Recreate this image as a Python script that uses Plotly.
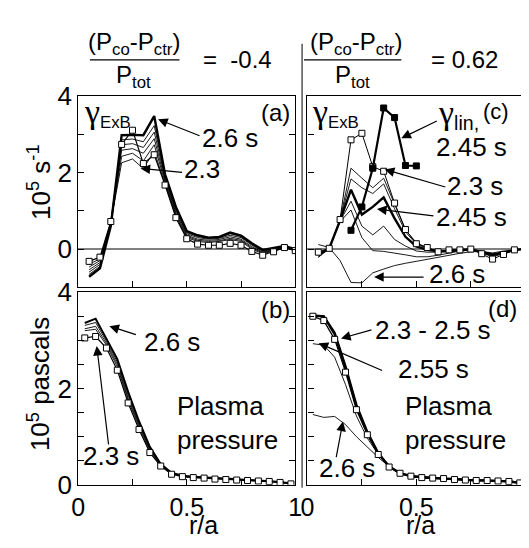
import plotly.graph_objects as go

# ---------------- data ----------------
r_ac = [0.05, 0.10, 0.15, 0.20, 0.25, 0.30, 0.35, 0.40, 0.45, 0.50,
        0.55, 0.60, 0.65, 0.70, 0.75, 0.80, 0.85, 0.90, 0.95, 1.00]

# panel (a): gamma_ExB, 10^5 s^-1, (Pco-Pctr)/Ptot = -0.4
a_230 = [-0.32, -0.21, 0.72, 2.73, 3.10, 2.23, 2.46, 1.67, 0.82, 0.27, 0.13, 0.10, 0.10, 0.15, 0.10, -0.06, -0.16, -0.07, 0.04, -0.04]
a_235 = [-0.40, -0.25, 0.70, 2.25, 2.35, 2.10, 2.55, 1.70, 0.85, 0.30, 0.20, 0.17, 0.20, 0.25, 0.20, 0.00, -0.12, -0.05, 0.03, 0.00]
a_240 = [-0.47, -0.30, 0.68, 2.42, 2.50, 2.30, 2.72, 1.75, 0.90, 0.33, 0.23, 0.20, 0.22, 0.28, 0.23, 0.03, -0.10, -0.03, 0.04, 0.00]
a_245 = [-0.54, -0.35, 0.66, 2.58, 2.62, 2.50, 2.88, 1.80, 0.95, 0.36, 0.26, 0.23, 0.25, 0.32, 0.26, 0.06, -0.08, -0.02, 0.05, 0.00]
a_250 = [-0.60, -0.40, 0.64, 2.72, 2.75, 2.65, 3.05, 1.85, 1.00, 0.40, 0.30, 0.26, 0.28, 0.36, 0.30, 0.10, -0.06, 0.00, 0.06, 0.00]
a_255 = [-0.66, -0.45, 0.62, 2.85, 2.87, 2.80, 3.22, 1.90, 1.05, 0.43, 0.33, 0.28, 0.30, 0.40, 0.33, 0.12, -0.04, 0.02, 0.07, 0.00]
a_260 = [-0.72, -0.50, 0.60, 2.97, 2.98, 2.97, 3.47, 1.95, 1.10, 0.47, 0.36, 0.30, 0.32, 0.43, 0.35, 0.15, -0.02, 0.03, 0.08, 0.00]

# panel (b): plasma pressure, 10^5 Pa
r_b = [0.03, 0.08, 0.13, 0.18, 0.23, 0.28, 0.33, 0.38, 0.43, 0.48,
       0.53, 0.58, 0.63, 0.68, 0.73, 0.78, 0.83, 0.88, 0.93, 0.98]
b_230 = [3.05, 3.08, 2.84, 2.38, 1.70, 1.15, 0.67, 0.39, 0.22, 0.17, 0.15, 0.14, 0.12, 0.11, 0.10, 0.09, 0.08, 0.07, 0.05, 0.02]
b_240 = [3.20, 3.23, 2.90, 2.45, 1.76, 1.20, 0.70, 0.40, 0.23, 0.18, 0.16, 0.15, 0.13, 0.12, 0.11, 0.10, 0.09, 0.07, 0.05, 0.03]
b_245 = [3.24, 3.29, 2.94, 2.50, 1.80, 1.24, 0.73, 0.41, 0.24, 0.18, 0.16, 0.15, 0.13, 0.12, 0.11, 0.10, 0.09, 0.08, 0.06, 0.03]
b_250 = [3.31, 3.37, 2.98, 2.55, 1.86, 1.28, 0.76, 0.42, 0.24, 0.19, 0.17, 0.15, 0.14, 0.12, 0.11, 0.10, 0.09, 0.08, 0.06, 0.03]
b_260 = [3.36, 3.45, 3.03, 2.61, 1.93, 1.32, 0.79, 0.43, 0.25, 0.19, 0.17, 0.15, 0.14, 0.13, 0.11, 0.10, 0.09, 0.08, 0.06, 0.03]

# panel (c): gamma_ExB, (Pco-Pctr)/Ptot = 0.62
c_230 = [-0.08, 0.02, 0.77, 2.85, 3.02, 2.15, 2.03, 1.20, 0.51, 0.14, 0.04, -0.07, -0.02, -0.02, 0.00, -0.12, -0.26, -0.14, -0.02, 0.02]
c_235 = [-0.10, 0.02, 0.77, 2.11, 1.85, 1.60, 1.85, 1.15, 0.50, 0.17, 0.03, -0.05, -0.04, -0.03, 0.00, -0.10, -0.20, -0.12, -0.03, 0.00]
c_240 = [-0.13, 0.02, 0.76, 1.83, 1.60, 1.45, 1.70, 1.05, 0.45, 0.13, 0.01, -0.05, -0.05, -0.03, 0.00, -0.09, -0.18, -0.10, -0.03, 0.00]
c_245 = [-0.16, 0.02, 0.75, 1.55, 0.90, 1.10, 1.35, 0.80, 0.32, 0.07, -0.02, -0.06, -0.05, -0.03, 0.00, -0.08, -0.15, -0.10, -0.02, 0.00]
c_250 = [-0.20, 0.02, 0.73, 1.25, 0.60, 0.37, 0.60, 0.25, 0.08, -0.05, -0.08, -0.08, -0.06, -0.04, -0.02, -0.07, -0.13, -0.08, -0.02, 0.00]
c_255 = [-0.22, 0.03, 0.72, 1.02, 0.30, -0.04, -0.06, -0.10, -0.15, -0.20, -0.20, -0.16, -0.10, -0.05, -0.03, -0.06, -0.12, -0.08, -0.02, 0.00]
c_260 = [0.12, 0.04, -0.30, -0.87, -0.88, -0.62, -0.52, -0.43, -0.37, -0.32, -0.26, -0.20, -0.15, -0.11, -0.07, -0.06, -0.10, -0.05, -0.02, 0.00]
r_lin = [0.20, 0.25, 0.30, 0.35, 0.40, 0.45, 0.50]
g_lin_245 = [0.49, 1.10, 2.11, 3.68, 3.43, 2.18, 2.17]

# panel (d): plasma pressure
r_d = [0.025, 0.075, 0.125, 0.175, 0.225, 0.275, 0.325, 0.375, 0.425, 0.475,
       0.525, 0.575, 0.625, 0.675, 0.725, 0.775, 0.825, 0.875, 0.925, 0.975]
d_230 = [3.50, 3.41, 3.02, 2.34, 1.56, 1.04, 0.63, 0.37, 0.24, 0.18, 0.15, 0.14, 0.13, 0.11, 0.10, 0.09, 0.09, 0.08, 0.07, 0.04]
d_240 = [3.52, 3.50, 3.12, 2.42, 1.62, 1.08, 0.65, 0.38, 0.24, 0.18, 0.16, 0.14, 0.13, 0.12, 0.10, 0.09, 0.09, 0.08, 0.07, 0.04]
d_250 = [3.50, 3.50, 3.16, 2.46, 1.66, 1.10, 0.66, 0.38, 0.24, 0.18, 0.16, 0.14, 0.13, 0.12, 0.10, 0.09, 0.09, 0.08, 0.07, 0.04]
d_255 = [2.93, 2.90, 2.65, 2.08, 1.43, 0.97, 0.63, 0.37, 0.24, 0.18, 0.15, 0.14, 0.13, 0.11, 0.10, 0.09, 0.09, 0.08, 0.07, 0.04]
d_260 = [1.46, 1.40, 1.42, 1.25, 1.00, 0.78, 0.57, 0.38, 0.25, 0.18, 0.15, 0.14, 0.13, 0.11, 0.10, 0.09, 0.09, 0.08, 0.07, 0.04]

x_ticks_text = ["0", "0.5", "1"]

# ---------------- figure ----------------
OFF = 8                      # default page body margin
W, H = 529 - OFF, 548 - OFF  # figure size so that page pixels match
FONT = "Liberation Sans, Arial, Helvetica, sans-serif"
GAMMA = "<span style='font-family:Liberation Serif, DejaVu Serif, serif;font-size:34px'>γ</span>"


def px(x):
    return (x - OFF) / W


def py(y):
    return 1 - (y - OFF) / H


fig = go.Figure()


def line(x, y, ax, width=1.0, squares=False, filled=False):
    mode = "lines+markers" if squares else "lines"
    marker = dict(symbol="square", size=6,
                  color="black" if filled else "white",
                  line=dict(color="black", width=1))
    fig.add_trace(go.Scatter(x=x, y=y, mode=mode, xaxis="x" + ax, yaxis="y" + ax,
                             line=dict(color="black", width=width),
                             marker=marker, showlegend=False, hoverinfo="skip",
                             cliponaxis=True))


# (a)
for s in [a_235, a_240, a_245, a_250, a_255]:
    line(r_ac, s, "", 0.9)
line(r_ac, a_260, "", 2.4)
line(r_ac, a_230, "", 1.2, squares=True)
# (b)
for s in [b_240, b_245, b_250]:
    line(r_b, s, "2", 0.9)
line(r_b, b_260, "2", 2.0)
line(r_b, b_230, "2", 1.2, squares=True)
# (c)
for s in [c_235, c_240, c_250, c_255, c_260]:
    line(r_ac, s, "3", 0.9)
line(r_ac, c_245, "3", 2.4)
line(r_ac, c_230, "3", 1.0, squares=True)
line(r_lin, g_lin_245, "3", 2.2, squares=True, filled=True)
# (d)
line(r_d, d_260, "4", 0.9)
line(r_d, d_255, "4", 0.9)
line(r_d, d_240, "4", 2.2)
line(r_d, d_250, "4", 2.2)
line(r_d, d_230, "4", 1.2, squares=True)

dom_xl = [px(73), px(296)]
dom_xr = [px(308.5), 1.0]
dom_yt = [py(288), py(85)]
dom_yb = [py(497), py(293)]

ytickfont = dict(family=FONT, size=26, color="black")
xtickfont = dict(family=FONT, size=25, color="black")


def xax(domain, rng, anchor, labels):
    return dict(domain=domain, range=rng, anchor=anchor, showline=True, mirror=True,
                linecolor="black", linewidth=1.2, ticks="inside", ticklen=6,
                tickcolor="black", tickwidth=1, tickvals=[0, 0.5, 1],
                ticktext=x_ticks_text, showticklabels=labels, tickfont=xtickfont,
                minor=dict(dtick=0.25, tick0=0, ticks="inside", ticklen=6,
                           tickcolor="black", tickwidth=1),
                showgrid=False, zeroline=False, fixedrange=True)


def yax(domain, rng, anchor, labels, minor, mirror, zl):
    return dict(domain=domain, range=rng, anchor=anchor, showline=True, mirror=mirror,
                linecolor="black", linewidth=1.2, ticks="inside", ticklen=6,
                tickcolor="black", tickwidth=1, tickvals=[0, 2, 4],
                showticklabels=labels, tickfont=ytickfont,
                minor=dict(dtick=minor, tick0=0, ticks="inside", ticklen=6,
                           tickcolor="black", tickwidth=1),
                showgrid=False, zeroline=zl, zerolinecolor="#808080",
                zerolinewidth=1.6, fixedrange=True)


fig.update_layout(
    width=W, height=H,
    margin=dict(l=0, r=0, t=0, b=0),
    paper_bgcolor="white", plot_bgcolor="white",
    font=dict(family=FONT, color="black"),
    xaxis=xax(dom_xl, [0, 1], "y", False),
    yaxis=yax(dom_yt, [-1, 4.0], "x", True, 1, "ticks", True),
    xaxis2=xax(dom_xl, [0, 1], "y2", True),
    yaxis2=yax(dom_yb, [0, 4], "x2", True, 0.5, "ticks", False),
    xaxis3=xax(dom_xr, [0, 0.985], "y3", False),
    yaxis3=yax(dom_yt, [-1, 4.0], "x3", False, 1, False, True),
    xaxis4=xax(dom_xr, [0, 0.985], "y4", True),
    yaxis4=yax(dom_yb, [0, 4], "x4", False, 0.5, False, False),
)

# separator and fraction bars
shapes = [
    dict(type="line", xref="paper", yref="paper", x0=px(303), x1=px(303),
         y0=py(30), y1=py(500), line=dict(color="black", width=1)),
    dict(type="line", xref="paper", yref="paper", x0=px(85), x1=px(177),
         y0=py(47), y1=py(47), line=dict(color="black", width=1.3)),
    dict(type="line", xref="paper", yref="paper", x0=px(305), x1=px(405),
         y0=py(47), y1=py(47), line=dict(color="black", width=1.3)),
]
fig.update_layout(shapes=shapes)

ann = []


def text(x, y, s, size=26, xanchor="center", align="center", angle=0):
    ann.append(dict(x=px(x), y=py(y), xref="paper", yref="paper", text=s,
                    showarrow=False, xanchor=xanchor, yanchor="middle", align=align,
                    textangle=angle, font=dict(family=FONT, size=size, color="black")))


def arrow(hx, hy, tx, ty):
    ann.append(dict(x=px(hx), y=py(hy), xref="paper", yref="paper", text="",
                    showarrow=True, ax=tx - hx, ay=ty - hy, axref="pixel", ayref="pixel",
                    arrowhead=2, arrowsize=1.6, arrowwidth=1.2, arrowcolor="black",
                    standoff=0, startstandoff=0))


# header
text(130, 30, "(P<sub>co</sub>-P<sub>ctr</sub>)", 24)
text(130, 65, "P<sub>tot</sub>", 24)
text(237, 47, "=  -0.4", 24)
text(358, 30, "(P<sub>co</sub>-P<sub>ctr</sub>)", 24)
text(355, 65, "P<sub>tot</sub>", 24)
text(470, 47, "= 0.62", 24)

# axis titles
text(33, 177, "10<sup>5</sup> s<sup>-1</sup>", 26, angle=-90)
text(33, 390, "10<sup>5</sup> pascals", 26, angle=-90)
text(202, 539, "r/a", 25)
text(425, 539, "r/a", 25)

# panel (a)
text(77, 103, GAMMA + "<sub>ExB</sub>", 24, xanchor="left")
text(276, 103, "(a)", 24)
text(229, 130, "2.6 s", 26)
text(200, 163, "2.3", 26)
arrow(155, 110, 198, 127)
arrow(137, 162, 180, 166)

# panel (b)
text(276, 311, "(b)", 24)
text(169, 346, "2.6 s", 26)
text(107, 466, "2.3 s", 26)
text(172, 431, "Plasma<br>pressure", 26, xanchor="left", align="left")
arrow(105, 329, 133, 338)
arrow(92, 350, 104, 450)

# panel (c)
text(311, 103, GAMMA + "<sub>ExB</sub>", 24, xanchor="left")
text(441, 104, GAMMA + "<sub>lin,</sub>", 28, xanchor="left")
text(502, 102, "(c)", 22)
text(477, 139, "2.45 s", 26)
text(481, 181, "2.3 s", 26)
text(477, 213, "2.45 s", 26)
text(462, 274, "2.6 s", 26)
arrow(405, 130, 442, 112)
arrow(388, 163, 450, 181)
arrow(380, 205, 438, 212)
arrow(377, 277, 428, 277)

# panel (d)
text(509, 310, "(d)", 24)
text(438, 333, "2.3 - 2.5 s", 26)
text(438, 374, "2.55 s", 26)
text(407, 431, "Plasma<br>pressure", 26, xanchor="left", align="left")
text(349, 479, "2.6 s", 26)
arrow(343, 342, 375, 333)
arrow(320, 347, 385, 375)
arrow(345, 430, 338, 467)

fig.update_layout(annotations=ann)

fig.write_html("out.html")
